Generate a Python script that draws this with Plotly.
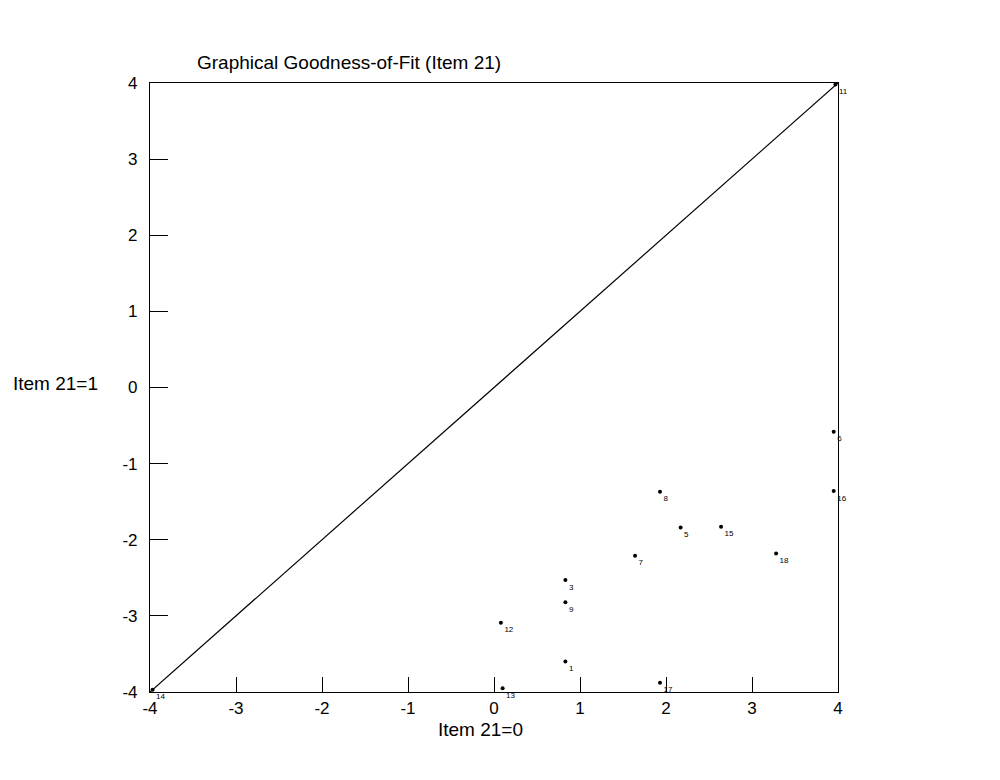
import plotly.graph_objects as go

# Data
item_labels = ["8", "5", "15", "7", "18", "3", "9", "12", "1", "13", "17", "16", "6", "11", "14"]
x_vals = [1.93, 2.17, 2.64, 1.64, 3.28, 0.83, 0.83, 0.08, 0.83, 0.10, 1.93, 3.95, 3.95, 3.97, -3.97]
y_vals = [-1.37, -1.84, -1.83, -2.21, -2.18, -2.53, -2.82, -3.09, -3.60, -3.95, -3.88, -1.36, -0.58, 3.98, -3.97]

diag_x = [-4, 4]
diag_y = [-4, 4]

tick_vals = [-4, -3, -2, -1, 0, 1, 2, 3, 4]
tick_text = ["-4", "-3", "-2", "-1", "0", "1", "2", "3", "4"]

font_family = "Liberation Sans, Arial, sans-serif"

fig = go.Figure()
fig.add_trace(go.Scatter(x=diag_x, y=diag_y, mode="lines",
                         line=dict(color="black", width=1.2), showlegend=False,
                         hoverinfo="skip"))
fig.add_trace(go.Scatter(x=x_vals, y=y_vals, mode="markers+text",
                         text=item_labels, textposition="bottom right",
                         textfont=dict(size=8, color="black", family=font_family),
                         marker=dict(size=4, color="black"),
                         showlegend=False, cliponaxis=False))

fig.update_layout(
    width=1000, height=780,
    margin=dict(l=142, r=170, t=75, b=96),
    paper_bgcolor="white", plot_bgcolor="white",
    font=dict(family=font_family, color="black", size=17),
    annotations=[
        dict(text="Graphical Goodness-of-Fit (Item 21)", xref="paper", yref="paper",
             x=0.065, y=1.0, yshift=8, xanchor="left", yanchor="bottom",
             showarrow=False, font=dict(size=19, family=font_family)),
        dict(text="Item 21=1", xref="paper", yref="paper",
             x=0, xshift=-95, y=0.5, yshift=4, xanchor="center", yanchor="middle",
             showarrow=False, font=dict(size=19, family=font_family)),
        dict(text="Item 21=0", xref="paper", yref="paper",
             x=0.48, y=0, yshift=-25, xanchor="center", yanchor="top",
             showarrow=False, font=dict(size=19, family=font_family)),
    ],
)
fig.update_xaxes(range=[-4, 4], tickvals=tick_vals, ticktext=tick_text,
                 showgrid=False, zeroline=False, showline=True, linecolor="black",
                 linewidth=1.2, mirror=True, ticks="inside", ticklen=15,
                 tickcolor="black", tickfont=dict(size=17), ticklabelstandoff=0)
fig.update_yaxes(range=[-4, 4], tickvals=tick_vals, ticktext=tick_text,
                 showgrid=False, zeroline=False, showline=True, linecolor="black",
                 linewidth=1.2, mirror=True, ticks="inside", ticklen=18,
                 tickcolor="black", tickfont=dict(size=17), ticklabelstandoff=8)

fig.write_html("out.html")
